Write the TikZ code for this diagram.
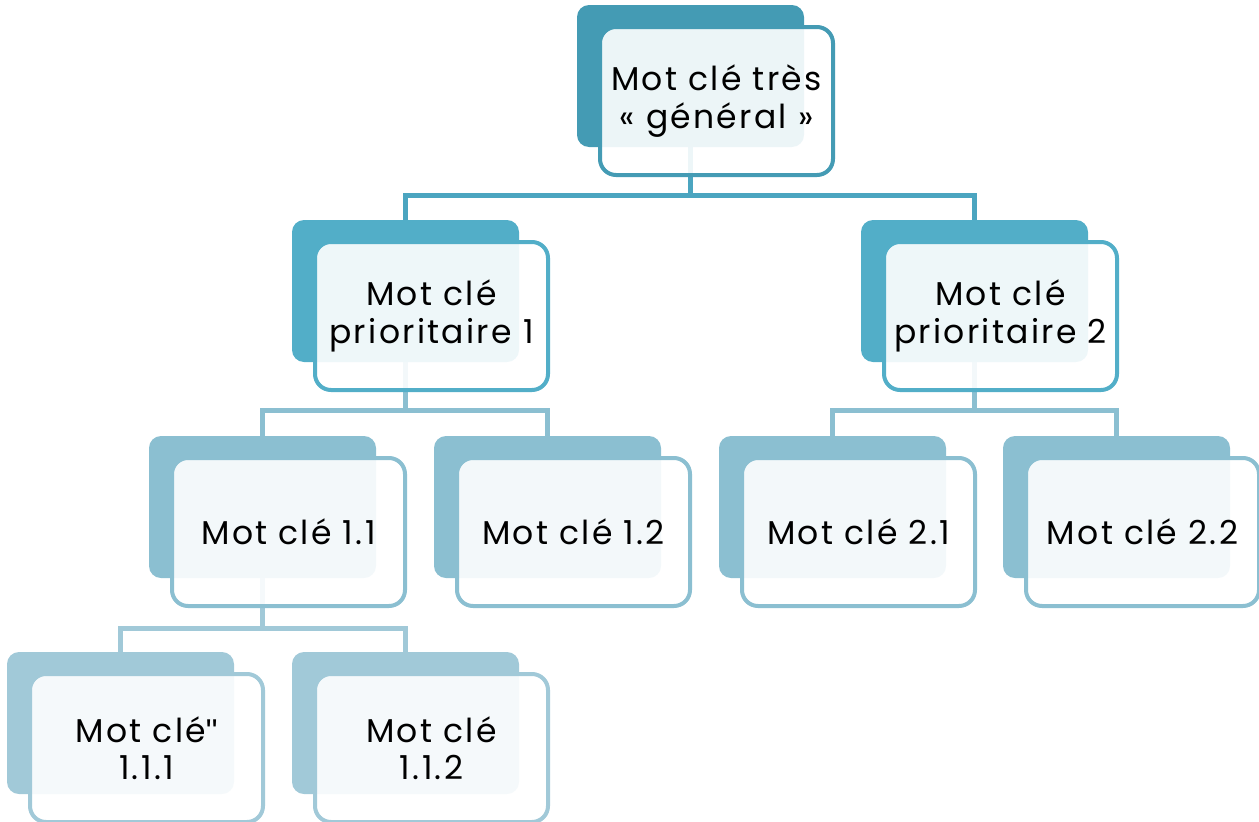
\documentclass[tikz,border=0pt]{standalone}
\usepackage{fontspec}
\setmainfont{Poppins}[LetterSpace=7]
\newfontfamily\quotefont{Liberation Sans}
\usetikzlibrary{calc}
\pgfdeclarelayer{bg}
\pgfsetlayers{bg,main}
\definecolor{cA}{RGB}{68,155,180}
\definecolor{cB}{RGB}{82,174,200}
\definecolor{cC}{RGB}{139,191,209}
\definecolor{cD}{RGB}{161,201,216}
\definecolor{lA}{RGB}{75,165,192}
\tikzset{
  backbox/.style={rectangle, rounded corners=12pt, minimum width=227pt, minimum height=142pt, inner sep=0pt, draw=none},
  frontbox/.style={rectangle, rounded corners=16pt, minimum width=233pt, minimum height=148pt, inner sep=0pt,
     line width=4pt, fill=white, fill opacity=0.9, text opacity=1, draw opacity=1, align=center,
     font=\fontsize{33}{37.5}\selectfont},
  conn/.style={line width=5pt}
}
\newcommand{\mybox}[6]{% name, x, y (back top-left), colour, text
  \node[backbox, fill=#4] (b#1) at (#2+113.5, #3+71) {};
  \node[frontbox, draw=#4] (f#1) at (#2+139.5, #3+96) {#5};
}
\begin{document}
\begin{tikzpicture}[x=1pt,y=-1pt]
\useasboundingbox (0,0) rectangle (1259,822);
\mybox{0}{577}{5}{cA}{Mot clé très\\« général »}{}
\mybox{1}{292}{220}{cB}{Mot clé\\prioritaire 1}{}
\mybox{2}{861}{220}{cB}{Mot clé\\prioritaire 2}{}
\mybox{11}{149}{436}{cC}{Mot clé 1.1}{}
\mybox{12}{434}{436}{cC}{Mot clé 1.2}{}
\mybox{21}{719}{436}{cC}{Mot clé 2.1}{}
\mybox{22}{1003}{436}{cC}{Mot clé 2.2}{}
\mybox{111}{7}{652}{cD}{Mot clé{\quotefont\char"22}\\1.1.1}{}
\mybox{112}{292}{652}{cD}{Mot clé\\1.1.2}{}
\begin{pgfonlayer}{bg}
\draw[conn, draw=lA] (b0.south) -- ++(0,48) -| (b1.north);
\draw[conn, draw=lA] (b0.south) -- ++(0,48) -| (b2.north);
\draw[conn, draw=cC] (b1.south) -- ++(0,48) -| (b11.north);
\draw[conn, draw=cC] (b1.south) -- ++(0,48) -| (b12.north);
\draw[conn, draw=cC] (b2.south) -- ++(0,48) -| (b21.north);
\draw[conn, draw=cC] (b2.south) -- ++(0,48) -| (b22.north);
\draw[conn, draw=cD] (b11.south) -- ++(0,50) -| (b111.north);
\draw[conn, draw=cD] (b11.south) -- ++(0,50) -| (b112.north);
\end{pgfonlayer}
\end{tikzpicture}
\end{document}
